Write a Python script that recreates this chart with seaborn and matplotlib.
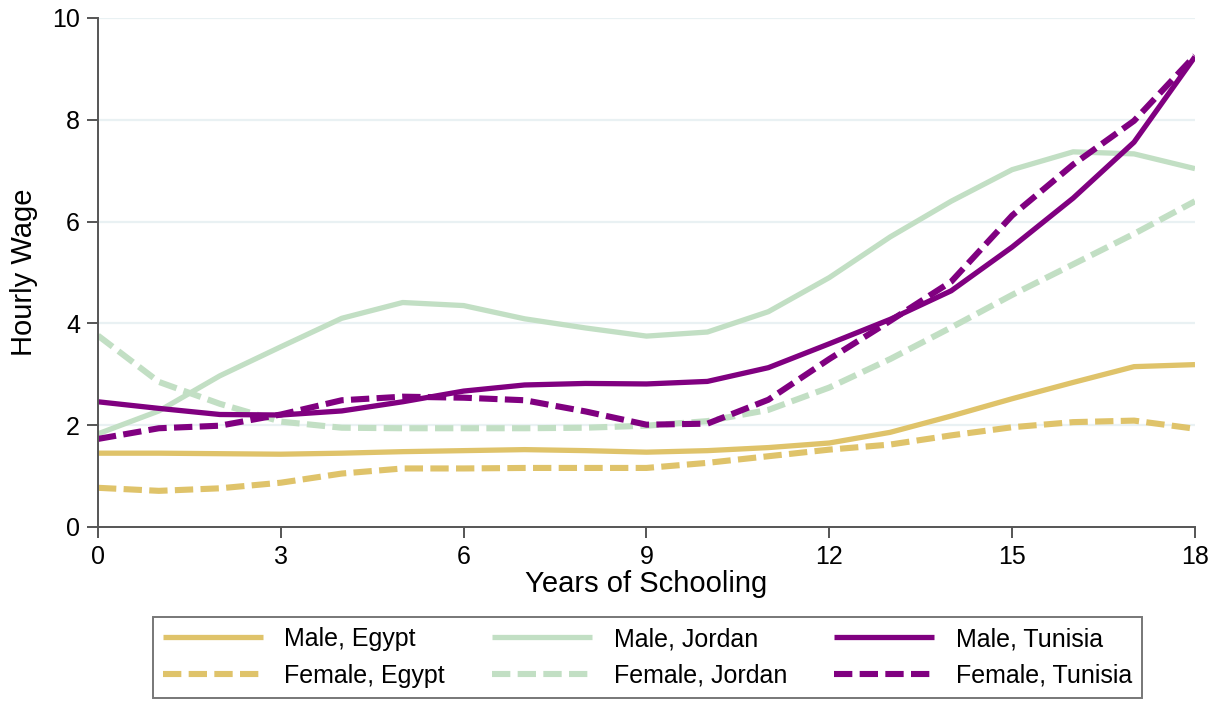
import numpy as np
import pandas as pd
import matplotlib
matplotlib.use("Agg")
import matplotlib.pyplot as plt
from matplotlib.lines import Line2D
import seaborn as sns

years = list(range(19))

male_egypt = [1.45, 1.45, 1.44, 1.43, 1.45, 1.48, 1.50, 1.52, 1.50, 1.47, 1.50, 1.56, 1.65, 1.86, 2.18, 2.52, 2.84, 3.15, 3.19]
female_egypt = [0.77, 0.71, 0.76, 0.87, 1.05, 1.15, 1.15, 1.16, 1.16, 1.16, 1.26, 1.39, 1.52, 1.62, 1.80, 1.96, 2.06, 2.09, 1.93]
male_jordan = [1.83, 2.28, 2.97, 3.54, 4.10, 4.41, 4.35, 4.09, 3.91, 3.75, 3.83, 4.23, 4.90, 5.70, 6.40, 7.02, 7.37, 7.33, 7.04]
female_jordan = [3.76, 2.85, 2.42, 2.07, 1.95, 1.94, 1.94, 1.94, 1.95, 1.99, 2.08, 2.30, 2.74, 3.30, 3.92, 4.56, 5.16, 5.76, 6.40]
male_tunisia = [2.46, 2.33, 2.21, 2.20, 2.28, 2.46, 2.67, 2.79, 2.82, 2.81, 2.86, 3.13, 3.60, 4.08, 4.64, 5.50, 6.46, 7.56, 9.24]
female_tunisia = [1.73, 1.94, 1.99, 2.21, 2.49, 2.56, 2.54, 2.49, 2.27, 2.01, 2.03, 2.50, 3.30, 4.05, 4.82, 6.12, 7.12, 7.98, 9.26]

countries = ["Egypt", "Jordan", "Tunisia"]
sexes = ["Male", "Female"]
series = {
    ("Male", "Egypt"): male_egypt,
    ("Female", "Egypt"): female_egypt,
    ("Male", "Jordan"): male_jordan,
    ("Female", "Jordan"): female_jordan,
    ("Male", "Tunisia"): male_tunisia,
    ("Female", "Tunisia"): female_tunisia,
}

rows = []
for (sex, country), vals in series.items():
    for yr, v in zip(years, vals):
        rows.append({"Years": yr, "Wage": v, "Sex": sex, "Country": country})
df = pd.DataFrame(rows)

palette = {"Egypt": "#dfc36a", "Jordan": "#c2dfc4", "Tunisia": "#800080"}
dash_styles = {"Male": "", "Female": (3.0, 1.2)}
widths = {"Male": 3.8, "Female": 4.4}

sns.set_theme(style="white")
plt.rcParams["font.family"] = ["Liberation Sans", "DejaVu Sans"]
plt.rcParams["text.color"] = "black"
plt.rcParams["axes.labelcolor"] = "black"
plt.rcParams["xtick.color"] = "black"
plt.rcParams["ytick.color"] = "black"

fig = plt.figure(figsize=(12.2, 7.02), dpi=100)
ax = fig.add_axes([0.0803, 0.2493, 0.8992, 0.7251])

for y in [2, 4, 6, 8, 10]:
    ax.axhline(y, color="#e9f1f3", lw=1.6, zorder=0)

sns.lineplot(data=df, x="Years", y="Wage", hue="Country", style="Sex",
             size="Sex", sizes=widths, palette=palette, dashes=dash_styles,
             hue_order=countries, style_order=sexes, size_order=sexes,
             legend=False, ax=ax, estimator=None)
for ln in ax.get_lines():
    ln.set_dash_capstyle("butt")
    ln.set_solid_capstyle("butt")

ax.set_xlim(0, 18)
ax.set_ylim(0, 10)
ax.set_xticks([0, 3, 6, 9, 12, 15, 18])
ax.set_yticks([0, 2, 4, 6, 8, 10])
ax.tick_params(axis="both", which="major", direction="out", length=8,
               width=1.4, color="#555555", labelcolor="black",
               labelsize=18, bottom=True, left=True)
ax.tick_params(axis="x", pad=5)
ax.tick_params(axis="y", pad=5)
for side in ["top", "right"]:
    ax.spines[side].set_visible(False)
for side in ["left", "bottom"]:
    ax.spines[side].set_color("#555555")
    ax.spines[side].set_linewidth(1.4)

ax.set_xlabel("Years of Schooling", fontsize=21, labelpad=1)
ax.set_ylabel("Hourly Wage", fontsize=21, labelpad=10)

handles, labels = [], []
for country in countries:
    for sex in sexes:
        if sex == "Male":
            h = Line2D([], [], color=palette[country], lw=widths[sex],
                       linestyle="-", solid_capstyle="butt")
        else:
            h = Line2D([], [], color=palette[country], lw=widths[sex],
                       dashes=dash_styles[sex], dash_capstyle="butt")
        handles.append(h)
        labels.append(f"{sex}, {country}")

leg = fig.legend(handles, labels, ncol=3, loc="center left",
                 bbox_to_anchor=(0.1254, 0.0634), fontsize=18,
                 frameon=True, fancybox=False, edgecolor="#555555",
                 handlelength=4.0, handletextpad=0.85, columnspacing=1.9,
                 labelspacing=0.5, borderpad=0.4, borderaxespad=0)
leg.get_frame().set_linewidth(1.4)

fig.savefig("out.png", dpi=100, facecolor="white")
